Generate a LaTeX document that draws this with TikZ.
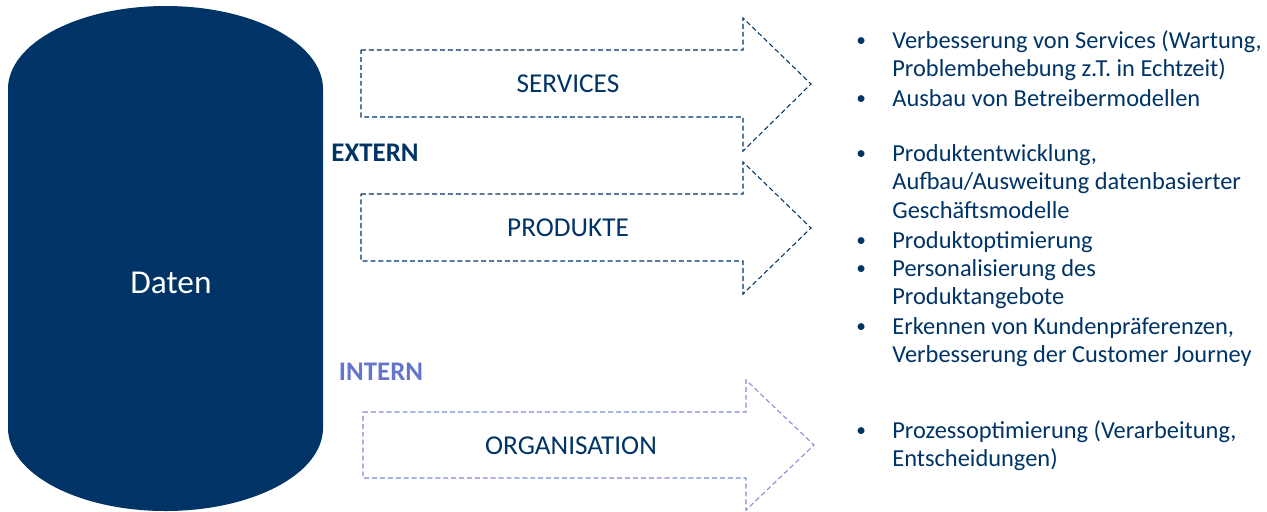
\documentclass[tikz,border=0pt]{standalone}
\usepackage{fontspec}
\setmainfont{Carlito}
\definecolor{navy}{RGB}{0,51,102}
\definecolor{lila}{RGB}{102,117,204}
\definecolor{lilastrich}{RGB}{128,140,218}
\tikzset{
  pfeil/.style={draw=navy, dash pattern=on 2.8pt off 1.7pt, line width=0.6pt},
  pfeilintern/.style={pfeil, draw=lilastrich},
  label/.style={text=navy, inner sep=0pt, font=\fontsize{15.5}{18}\selectfont},
  eintrag/.style={anchor=base west, inner sep=0pt, text=navy, font=\fontsize{13.9}{16.4}\selectfont},
  punkt/.style={eintrag, font=\fontsize{11}{13}\selectfont}
}
\newcommand{\zeilen}[1]{\begin{tabular}[t]{@{}l@{}}#1\end{tabular}}
\begin{document}
\begin{tikzpicture}[x=0.02cm, y=-0.02cm]
  \useasboundingbox (0,0) rectangle (1267,511);
  % Datenbank-Zylinder
  \fill [navy] (8,89) arc [start angle=180, end angle=360, x radius=157.5, y radius=83]
        -- (323,428) arc [start angle=0, end angle=180, x radius=157.5, y radius=83] -- cycle;
  \node [text=white, font=\fontsize{19}{22}\selectfont] (daten) at (171,283) {Daten};

  % Pfeile
  \draw [pfeil] (361,50) -- (743,50) -- (743,18) -- (811,84) -- (743,151) -- (743,117) -- (361,117) -- cycle;  % Services
  \draw [pfeil] (361,194) -- (743,194) -- (743,162) -- (811,228) -- (743,294) -- (743,261) -- (361,261) -- cycle;  % Produkte
  \draw [pfeilintern] (363,412) -- (746,412) -- (746,380) -- (814,445) -- (746,510) -- (746,478) -- (363,478) -- cycle;  % Organisation
  \node [label] (services) at (568,84) {SERVICES};
  \node [label] (produkte) at (568,228) {PRODUKTE};
  \node [label] (organisation) at (571,446) {ORGANISATION};
  \node [label, font=\fontsize{15.3}{18}\selectfont\bfseries] (extern) at (375,153) {EXTERN};
  \node [label, text=lila, font=\fontsize{15.3}{18}\selectfont\bfseries] (intern) at (381,372) {INTERN};

  % Aufzaehlung rechts
  \node [punkt] (p1) at (856,46) {•};
  \node [eintrag] (t1) at (892,48) {\zeilen{Verbesserung von Services (Wartung,\\Problembehebung z.T. in Echtzeit)}};
  \node [punkt] (p2) at (856,104) {•};
  \node [eintrag] (t2) at (892,106) {Ausbau von Betreibermodellen};
  \node [punkt] (p3) at (856,159) {•};
  \node [eintrag] (t3) at (892,161) {\zeilen{Produktentwicklung,\\Aufbau/Ausweitung datenbasierter\\Geschäftsmodelle}};
  \node [punkt] (p4) at (856,246) {•};
  \node [eintrag] (t4) at (892,248) {Produktoptimierung};
  \node [punkt] (p5) at (856,274) {•};
  \node [eintrag] (t5) at (892,276) {\zeilen{Personalisierung des\\Produktangebote}};
  \node [punkt] (p6) at (856,332) {•};
  \node [eintrag] (t6) at (892,334) {\zeilen{Erkennen von Kundenpräferenzen,\\Verbesserung der Customer Journey}};
  \node [punkt] (p7) at (856,436) {•};
  \node [eintrag] (t7) at (892,438) {\zeilen{Prozessoptimierung (Verarbeitung,\\Entscheidungen)}};
\end{tikzpicture}
\end{document}
